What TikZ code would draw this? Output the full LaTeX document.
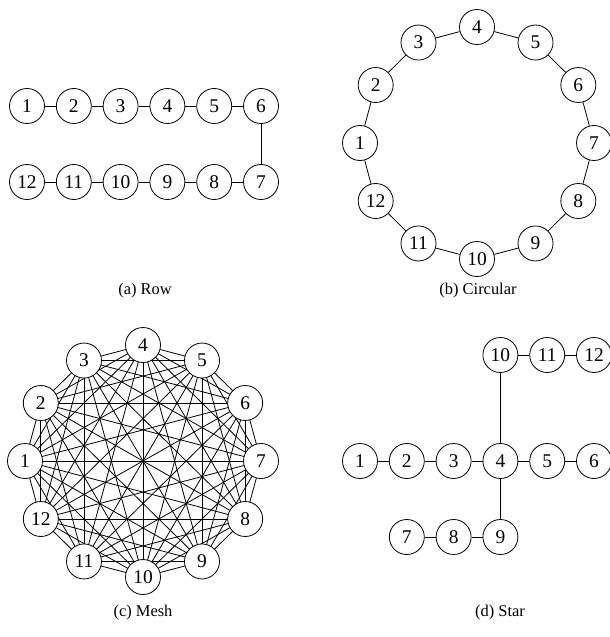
\documentclass[tikz,border=0pt]{standalone}
\usepackage{fontspec}
\setmainfont{Liberation Serif}
\begin{document}
\begin{tikzpicture}[x=1bp,y=-1bp,
  nd/.style={circle,draw,fill=white,line width=0.8bp,minimum size=35bp,inner sep=0pt,font=\fontsize{19.5}{19.5}\selectfont},
  ln/.style={line width=0.8bp},
  captxt/.style={font=\fontsize{16.5}{16.5}\selectfont}]
\useasboundingbox (0,0) rectangle (610,637);
% (a) Row
\foreach \i [evaluate=\i as \x using {27+(\i-1)*46.8}] in {1,...,6}
  \node[nd] (a\i) at (\x,106) {\i};
\foreach \i [evaluate=\i as \x using {27+(12-\i)*46.8}] in {7,...,12}
  \node[nd] (a\i) at (\x,182) {\i};
\foreach \i [evaluate=\i as \j using int(\i+1)] in {1,...,11}
  \draw[ln] (a\i) -- (a\j);
\node[captxt] (capa) at (145,291) {(a) Row};
% (b) Circular
\foreach \i in {1,...,12}
  \node[nd] (b\i) at ({477+117*cos(180-(\i-1)*30)},{143-116*sin(180-(\i-1)*30)}) {\i};
\foreach \i [evaluate=\i as \j using {int(mod(\i,12)+1)}] in {1,...,12}
  \draw[ln] (b\i) -- (b\j);
\node[captxt] (capb) at (478,291) {(b) Circular};
% (c) Mesh
\foreach \i in {1,...,12}
  \coordinate (cc\i) at ({143+118*cos(180-(\i-1)*30)},{461-116*sin(180-(\i-1)*30)});
\foreach \i in {1,...,11}{
  \pgfmathtruncatemacro{\s}{\i+1}
  \foreach \j in {\s,...,12}
    \draw[ln] (cc\i) -- (cc\j);
}
\foreach \i in {1,...,12}
  \node[nd] (c\i) at (cc\i) {\i};
\node[captxt] (capc) at (143,613) {(c) Mesh};
% (d) Star
\foreach \i [evaluate=\i as \x using {360+(\i-1)*46.8}] in {1,...,6}
  \node[nd] (d\i) at (\x,461) {\i};
\foreach \i [evaluate=\i as \x using {360+(\i-6)*46.8}] in {7,8,9}
  \node[nd] (d\i) at (\x,537) {\i};
\foreach \i [evaluate=\i as \x using {360+(\i-7)*46.8}] in {10,11,12}
  \node[nd] (d\i) at (\x,355) {\i};
\draw[ln] (d1) -- (d2);
\draw[ln] (d2) -- (d3);
\draw[ln] (d3) -- (d4);
\draw[ln] (d4) -- (d5);
\draw[ln] (d5) -- (d6);
\draw[ln] (d7) -- (d8);
\draw[ln] (d8) -- (d9);
\draw[ln] (d10) -- (d11);
\draw[ln] (d11) -- (d12);
\draw[ln] (d10) -- (d4);
\draw[ln] (d4) -- (d9);
\node[captxt] (capd) at (500,613) {(d) Star};
\end{tikzpicture}
\end{document}
